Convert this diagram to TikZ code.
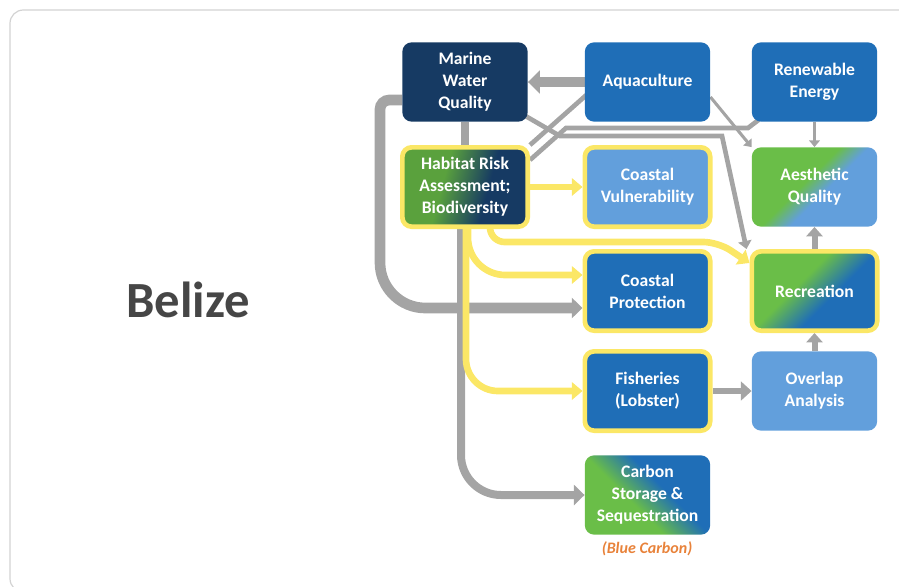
\documentclass[tikz,border=0pt]{standalone}
\usepackage{fontspec}
\setmainfont{Carlito}
\usetikzlibrary{arrows.meta,positioning,calc,backgrounds}
\definecolor{NavyBox}{HTML}{163A63}
\definecolor{MidBlue}{HTML}{1F6EB7}
\definecolor{SkyBlue}{HTML}{629FDC}
\definecolor{LeafGreen}{HTML}{6ABE48}
\definecolor{HiYellow}{HTML}{FBE766}
\definecolor{LinkGray}{HTML}{A4A4A4}
\definecolor{FrameGray}{HTML}{D2D2D2}
\definecolor{TitleGray}{HTML}{464646}
\definecolor{BlueCarbon}{HTML}{E8823A}
% two-colour blends with a short transition band
\pgfdeclareverticalshading{aestshade}{100bp}{color(0bp)=(SkyBlue); color(45bp)=(SkyBlue); color(55bp)=(LeafGreen); color(100bp)=(LeafGreen)}
\pgfdeclareverticalshading{recrshade}{100bp}{color(0bp)=(MidBlue); color(42bp)=(MidBlue); color(58bp)=(LeafGreen); color(100bp)=(LeafGreen)}
\pgfdeclareverticalshading{habshade}{100bp}{color(0bp)=(NavyBox); color(40bp)=(NavyBox); color(60bp)=(LeafGreen!85!black); color(100bp)=(LeafGreen!85!black)}
\tikzset{
  box/.style      = {rounded corners=7pt, minimum width=94pt, minimum height=59.5pt,
                     align=center, text=white, inner sep=2pt,
                     font=\bfseries\fontsize{13.2}{16.5}\selectfont},
  navybox/.style  = {box, fill=NavyBox},
  bluebox/.style  = {box, fill=MidBlue},
  skybox/.style   = {box, fill=SkyBlue},
  blendbox/.style = {box, shade, shading=#1},
  hilite/.style   = {draw=HiYellow, line width=3.5pt},
  grayway/.style  = {draw=LinkGray, line width=#1},
  grayway/.default = 4pt,
  yellowway/.style = {draw=HiYellow, line width=5pt, -{Triangle[length=8pt, width=13pt]}},
}
\begin{document}
\begin{tikzpicture}[x=0.75pt, y=-0.75pt]
  \useasboundingbox (0,0) rectangle (899,586);
  \begin{scope}
    \clip (0,0) rectangle (899,586);
    \draw[FrameGray, line width=0.9pt, rounded corners=10pt] (910,10) -- (10,10) -- (10,592) -- (910,592);
  \end{scope}

  \node[font=\bfseries\fontsize{38}{44}\selectfont, text=TitleGray] (belize) at (188,300) {Belize};

  % boxes, column by column
  \node[navybox] (mwq) at (465,82) {Marine\\Water\\Quality};
  \node[blendbox=habshade, shading angle=75, hilite] (hra) at (465,187) {Habitat Risk\\Assessment;\\Biodiversity};
  \node[bluebox] (aqua) at (647.5,82) {Aquaculture};
  \node[skybox, hilite] (vuln) at (647.5,187) {Coastal\\Vulnerability};
  \node[bluebox, hilite] (prot) at (647.5,291) {Coastal\\Protection};
  \node[bluebox, hilite] (fish) at (647.5,391) {Fisheries\\(Lobster)};
  \node[blendbox=recrshade, shading angle=135] (carbon) at (647.5,495) {Carbon\\Storage \&\\Sequestration};
  \node[font=\bfseries\itshape\fontsize{12}{14}\selectfont, text=BlueCarbon] (bluecarbon) at (647,549) {(Blue Carbon)};
  \node[bluebox] (renew) at (814.5,82) {Renewable\\Energy};
  \node[blendbox=aestshade, shading angle=45] (aesth) at (814.5,187) {Aesthetic\\Quality};
  \node[blendbox=recrshade, shading angle=45, hilite] (recr) at (814.5,291) {Recreation};
  \node[skybox] (overlap) at (814.5,391) {Overlap\\Analysis};

  \begin{scope}[on background layer]
    % gray links
    \draw[grayway=7.5pt, -{Triangle[length=9pt, width=17pt]}] (aqua.west) -- (mwq.east);
    \draw[grayway=6pt] (mwq.south) -- (hra.north);
    \draw[grayway=8pt, -{Triangle[length=8pt, width=15pt]}]
      ($(mwq.west)+(0,18)$) [rounded corners=7pt] -- (380,100)
      [rounded corners=34pt] -- (380,308) -- ($(prot.west)+(0,17)$);
    \draw[grayway=6pt, rounded corners=30pt, -{Triangle[length=8pt, width=15pt]}]
      ($(hra.south)+(-4,0)$) |- (carbon.west);
    \draw[grayway=3.5pt] ($(aqua.south west)+(3,-28)$) -- (hra.north east);
    \draw[grayway=3.5pt] ($(renew.south west)+(7,-2)$) -- (748,128) -- (566,128) -- ($(hra.east)+(0,-27)$);
    \draw[grayway=3.5pt, -{Triangle[length=6pt, width=10pt]}]
      ($(mwq.south east)+(-6,-8)$) -- (560,136) -- (722,136) -- ($(recr.north west)+(-3,0)$);
    \draw[grayway=2.3pt, -{Triangle[length=5pt, width=8pt]}] ($(aqua.east)+(0,15)$) -- (aesth.north west);
    \draw[grayway=2.3pt, -{Triangle[length=5pt, width=8pt]}] (renew.south) -- (aesth.north);
    \draw[grayway=4.5pt, -{Triangle[length=7pt, width=12pt]}] (recr.north) -- (aesth.south);
    \draw[grayway=4.5pt, -{Triangle[length=7pt, width=12pt]}] (overlap.north) -- (recr.south);
    \draw[grayway=5pt, -{Triangle[length=8pt, width=14pt]}] (fish.east) -- (overlap.west);
    % yellow links out of the habitat box
    \draw[yellowway] (hra.east) -- (vuln.west);
    \draw[yellowway, rounded corners=28pt] ($(hra.south)+(3,0)$) |- ($(prot.west)+(0,-16)$);
    \draw[yellowway, rounded corners=24pt] ($(hra.south)+(1,0)$) |- (fish.west);
    \draw[yellowway, rounded corners=11pt] ($(hra.south)+(25,0)$) |- (718,242) -- ($(recr.west)+(0,-28)$);
  \end{scope}
\end{tikzpicture}
\end{document}
